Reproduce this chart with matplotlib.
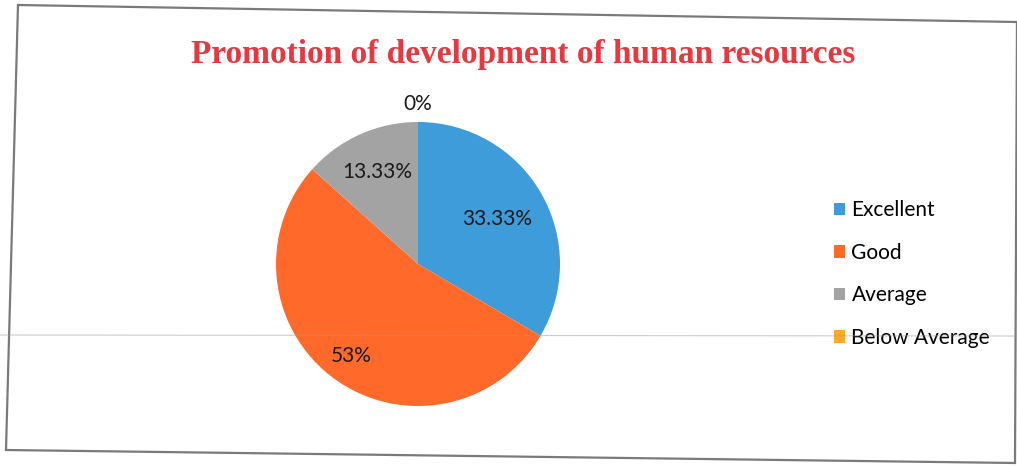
import numpy as np
import matplotlib
matplotlib.use("Agg")
import matplotlib.pyplot as plt
from matplotlib.patches import Polygon
from matplotlib.lines import Line2D

# --- Data ---
categories = ["Excellent", "Good", "Average", "Below Average"]
shares = [33.33, 53, 13.33, 0]
share_labels = ["33.33%", "53%", "13.33%", "0%"]
colors = ["#3d9cd9", "#ff6a2a", "#a3a3a3", "#ffa92a"]

# radial position of each label, as a fraction of the radius
label_dist = [0.64, 0.80, 0.71, 1.13]

W, H = 1017, 466
fig = plt.figure(figsize=(W / 100, H / 100), dpi=100)
fig.patch.set_facecolor("white")

def px(x, y):
    # pixel coords (origin top-left) -> figure fraction
    return (x / W, 1 - y / H)

# chart border (page is slightly skewed)
corners = [px(18, 5), px(1017, 22), px(1015, 463), px(6, 450)]
fig.add_artist(Polygon(corners, closed=True, fill=False, edgecolor="#7a7a7a",
                       linewidth=1.6, transform=fig.transFigure))

# --- Pie ---
cx, cy, half = 418, 264, 150
ax = fig.add_axes([(cx - half) / W, (H - cy - half) / H, 2 * half / W, 2 * half / H])
R = 142 / half
wedges, _ = ax.pie(shares, colors=colors, startangle=90, counterclock=False,
                   radius=R, wedgeprops=dict(linewidth=0))
ax.set_xlim(-1, 1)
ax.set_ylim(-1, 1)
ax.set_aspect("equal")
ax.axis("off")

for w, txt, d in zip(wedges, share_labels, label_dist):
    ang = np.deg2rad((w.theta1 + w.theta2) / 2)
    ax.text(d * R * np.cos(ang), d * R * np.sin(ang), txt, ha="center", va="center",
            fontsize=15, family="Lato", color="#1a1a1a")

# --- Title ---
fig.text(*px(523, 55), "Promotion of development of human resources", ha="center", va="center",
         fontsize=24, fontweight="bold", family="Liberation Serif", color="#e8383f")

# --- Legend ---
fig.legend(wedges, categories, loc="center left", bbox_to_anchor=px(815, 274),
           bbox_transform=fig.transFigure, frameon=False, prop=dict(family="Lato", size=15),
           handlelength=0.55, handleheight=0.55, handletextpad=0.3, labelspacing=1.08)

# faint scanner streak across the page
fig.add_artist(Line2D([0, 1], [1 - 335 / H, 1 - 336 / H], transform=fig.transFigure,
                      color="#9a9a9a", linewidth=0.8, alpha=0.5, zorder=10))

fig.savefig("out.png", dpi=100, facecolor="white")
